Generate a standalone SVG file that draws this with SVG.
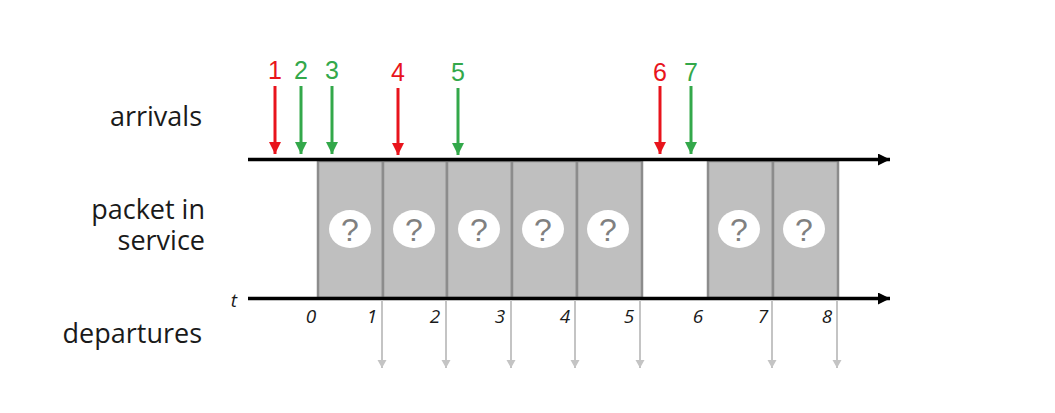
<svg xmlns="http://www.w3.org/2000/svg" width="1055" height="413" viewBox="0 0 1055 413">
<style>
.lbl{font-family:"Open Sans","Liberation Sans",sans-serif;font-size:27px;fill:#1a1a1a;text-anchor:end}
.tick{font-family:"Open Sans","Liberation Sans",sans-serif;font-size:19px;font-style:italic;fill:#1a1a1a;text-anchor:middle}
.num{font-family:"Liberation Sans",Arial,sans-serif;font-size:25px;text-anchor:middle}
.box{fill:#bfbfbf;stroke:#8c8c8c;stroke-width:2.5}
.q{fill:#ffffff}
.qt{font-family:"Liberation Sans",Arial,sans-serif;font-size:32px;fill:#808080;text-anchor:middle}
.axis{stroke:#000;stroke-width:3.5}
.red{stroke:#e8141c;stroke-width:3}
.green{stroke:#33a84a;stroke-width:3}
.dep{stroke:#c4c4c4;stroke-width:2}
</style>
<defs>
<marker id="ah" markerUnits="userSpaceOnUse" markerWidth="14" markerHeight="14" refX="12" refY="6" orient="auto"><path d="M0,0 L12,6 L0,12 Z" fill="#000"/></marker>
<marker id="ar" markerUnits="userSpaceOnUse" markerWidth="14" markerHeight="14" refX="12" refY="6" orient="auto"><path d="M0,0 L12,6 L0,12 Z" fill="#e8141c"/></marker>
<marker id="ag" markerUnits="userSpaceOnUse" markerWidth="14" markerHeight="14" refX="12" refY="6" orient="auto"><path d="M0,0 L12,6 L0,12 Z" fill="#33a84a"/></marker>
<marker id="ad" markerUnits="userSpaceOnUse" markerWidth="10" markerHeight="10" refX="8" refY="4.5" orient="auto"><path d="M0,0 L8,4.5 L0,9 Z" fill="#c4c4c4"/></marker>
</defs>
<rect width="1055" height="413" fill="#fff"/>
<g id="labels">
<text class="lbl" x="202" y="126">arrivals</text>
<text class="lbl" x="205" y="219">packet in</text>
<text class="lbl" x="205" y="250">service</text>
<text class="lbl" x="202" y="343">departures</text>
<text class="tick" x="234" y="307">t</text>
</g>
<g id="service">
<g id="p1"><rect class="box" x="318" y="161" width="65" height="137"/><ellipse class="q" cx="350" cy="229" rx="21" ry="19"/><text class="qt" x="350" y="241">?</text></g>
<g id="p2"><rect class="box" x="383" y="161" width="64" height="137"/><ellipse class="q" cx="414" cy="229" rx="21" ry="19"/><text class="qt" x="414" y="241">?</text></g>
<g id="p3"><rect class="box" x="447" y="161" width="65" height="137"/><ellipse class="q" cx="479" cy="229" rx="21" ry="19"/><text class="qt" x="479" y="241">?</text></g>
<g id="p4"><rect class="box" x="512" y="161" width="65" height="137"/><ellipse class="q" cx="543" cy="229" rx="21" ry="19"/><text class="qt" x="543" y="241">?</text></g>
<g id="p5"><rect class="box" x="577" y="161" width="65" height="137"/><ellipse class="q" cx="608" cy="229" rx="21" ry="19"/><text class="qt" x="608" y="241">?</text></g>
<g id="p6"><rect class="box" x="708" y="161" width="65" height="137"/><ellipse class="q" cx="739" cy="229" rx="21" ry="19"/><text class="qt" x="739" y="241">?</text></g>
<g id="p7"><rect class="box" x="773" y="161" width="65" height="137"/><ellipse class="q" cx="804" cy="229" rx="21" ry="19"/><text class="qt" x="804" y="241">?</text></g>
</g>
<g id="connectors">
<line class="axis" x1="248" y1="159.5" x2="890" y2="159.5" marker-end="url(#ah)"/>
<line class="axis" x1="248" y1="298.5" x2="890" y2="298.5" marker-end="url(#ah)"/>
<line class="red" x1="275" y1="86" x2="275" y2="154" marker-end="url(#ar)"/>
<line class="green" x1="301" y1="86" x2="301" y2="154" marker-end="url(#ag)"/>
<line class="green" x1="332" y1="86" x2="332" y2="154" marker-end="url(#ag)"/>
<line class="red" x1="398" y1="88" x2="398" y2="155" marker-end="url(#ar)"/>
<line class="green" x1="458" y1="88" x2="458" y2="155" marker-end="url(#ag)"/>
<line class="red" x1="660" y1="86" x2="660" y2="154" marker-end="url(#ar)"/>
<line class="green" x1="691" y1="86" x2="691" y2="154" marker-end="url(#ag)"/>
<line class="dep" x1="382" y1="300" x2="382" y2="368" marker-end="url(#ad)"/>
<line class="dep" x1="446" y1="300" x2="446" y2="368" marker-end="url(#ad)"/>
<line class="dep" x1="511" y1="300" x2="511" y2="368" marker-end="url(#ad)"/>
<line class="dep" x1="575" y1="300" x2="575" y2="368" marker-end="url(#ad)"/>
<line class="dep" x1="640" y1="300" x2="640" y2="368" marker-end="url(#ad)"/>
<line class="dep" x1="772" y1="300" x2="772" y2="368" marker-end="url(#ad)"/>
<line class="dep" x1="837" y1="300" x2="837" y2="368" marker-end="url(#ad)"/>
</g>
<g id="arrival-labels">
<text class="num" x="275" y="79" fill="#e8141c">1</text>
<text class="num" x="301" y="79" fill="#33a84a">2</text>
<text class="num" x="332" y="79" fill="#33a84a">3</text>
<text class="num" x="398" y="81" fill="#e8141c">4</text>
<text class="num" x="458" y="81" fill="#33a84a">5</text>
<text class="num" x="660" y="81" fill="#e8141c">6</text>
<text class="num" x="691" y="81" fill="#33a84a">7</text>
</g>
<g id="ticks">
<text class="tick" x="311" y="323">0</text>
<text class="tick" x="372" y="323">1</text>
<text class="tick" x="435" y="323">2</text>
<text class="tick" x="500" y="323">3</text>
<text class="tick" x="565" y="323">4</text>
<text class="tick" x="629" y="323">5</text>
<text class="tick" x="698" y="323">6</text>
<text class="tick" x="763" y="323">7</text>
<text class="tick" x="827" y="323">8</text>
</g>
</svg>
